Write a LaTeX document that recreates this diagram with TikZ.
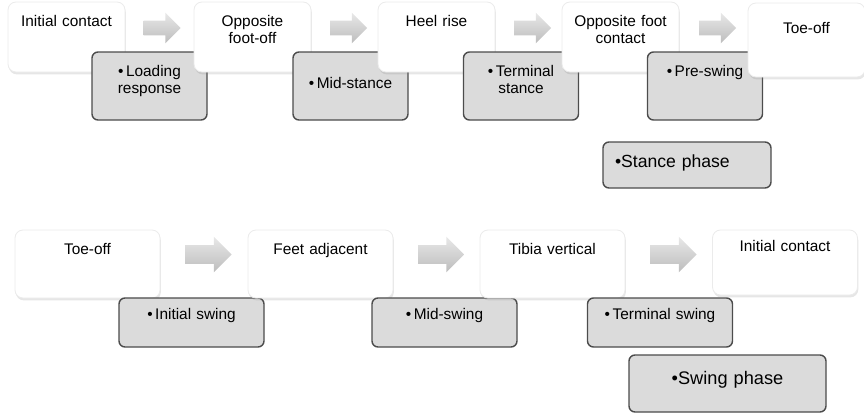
\documentclass[tikz,border=0pt]{standalone}
\usepackage{fontspec}
\setmainfont{Liberation Sans}
\usetikzlibrary{shapes.arrows,shadows}

\begin{document}
\begin{tikzpicture}[x=0.5pt,y=-0.5pt,
    font=\fontsize{7.7}{8.6}\selectfont,
    stage/.style={rounded corners=4pt, fill=white, draw=black!8,
      drop shadow={shadow xshift=0.4pt, shadow yshift=-1.2pt, opacity=0.2},
      align=center, inner xsep=2pt, inner ysep=6pt, text height=6pt},
    top stage/.style={stage, text width=54.5pt, text depth=17pt},
    low stage/.style={stage, text width=68.5pt, text depth=16pt},
    event/.style={rounded corners=3pt, fill=black!14, draw=black!70,
      line width=0.7pt, align=center, inner xsep=2pt, text height=6pt},
    top event/.style={event, text width=53.5pt, inner ysep=6pt, text depth=16pt},
    low event/.style={event, text width=68.5pt, inner ysep=4.5pt, text depth=9.5pt},
    phase/.style={rounded corners=3pt, fill=black!14, draw=black!70,
      line width=0.7pt, inner xsep=6pt, inner ysep=0pt,
      font=\fontsize{8.8}{10}\selectfont},
    flow/.style={single arrow, draw=none, inner xsep=0pt,
      top color=black!9, bottom color=black!26},
    top flow/.style={flow, minimum height=18.5pt, inner ysep=3.5pt,
      single arrow head extend=4pt},
    low flow/.style={flow, minimum height=23pt, inner ysep=4.5pt,
      single arrow head extend=4.25pt}]

\useasboundingbox (0,0) rectangle (864,413);

% stance phase
\node[top stage] (ic) at (66.5,37) {Initial contact};
\node[top event] (lr) at (149.5,86) {\textbullet\,Loading\\response};
\node[top stage] (ofo) at (252.5,37) {Opposite\\foot-off};
\node[top event, text height=12pt, text depth=10pt] (ms) at (350.5,86) {\textbullet\,Mid-stance};
\node[top stage] (hr) at (436.5,37) {Heel rise};
\node[top event] (ts) at (521,86) {\textbullet\,Terminal\\stance};
\node[top stage] (ofc) at (620.5,37) {Opposite foot\\contact};
\node[top event] (ps) at (705,86) {\textbullet\,Pre-swing};
\node[top stage, text height=9pt, text depth=16pt] (to) at (806.5,40) {Toe-off};

\node[top flow] (f1) at (158.5,28) {};
\node[top flow] (f2) at (345,28) {};
\node[top flow] (f3) at (529,28) {};
\node[top flow] (f4) at (714,28) {};

\node[phase, text width=72pt, align=left, text height=12.8pt, text depth=10.2pt]
  (stance) at (687,165) {\textbullet Stance phase};

% swing phase
\node[low stage] (to2) at (87.5,264) {Toe-off};
\node[low event] (isw) at (191.5,322.5) {\textbullet\,Initial swing};
\node[low stage] (fa) at (320.5,264) {Feet adjacent};
\node[low event] (msw) at (444.5,322.5) {\textbullet\,Mid-swing};
\node[low stage] (tv) at (552.5,264) {Tibia vertical};
\node[low event] (tsw) at (660,322.5) {\textbullet\,Terminal swing};
\node[low stage, text height=4.5pt] (ic2) at (785,262.5) {Initial contact};

\node[low flow] (f5) at (204,254.5) {};
\node[low flow] (f6) at (436.5,254.5) {};
\node[low flow] (f7) at (669,254.5) {};

\node[phase, text width=86.5pt, align=center, text height=14.8pt, text depth=13.7pt,
  font=\fontsize{9.1}{10}\selectfont] (swing) at (727.5,383.5) {\textbullet Swing phase};

\end{tikzpicture}
\end{document}
